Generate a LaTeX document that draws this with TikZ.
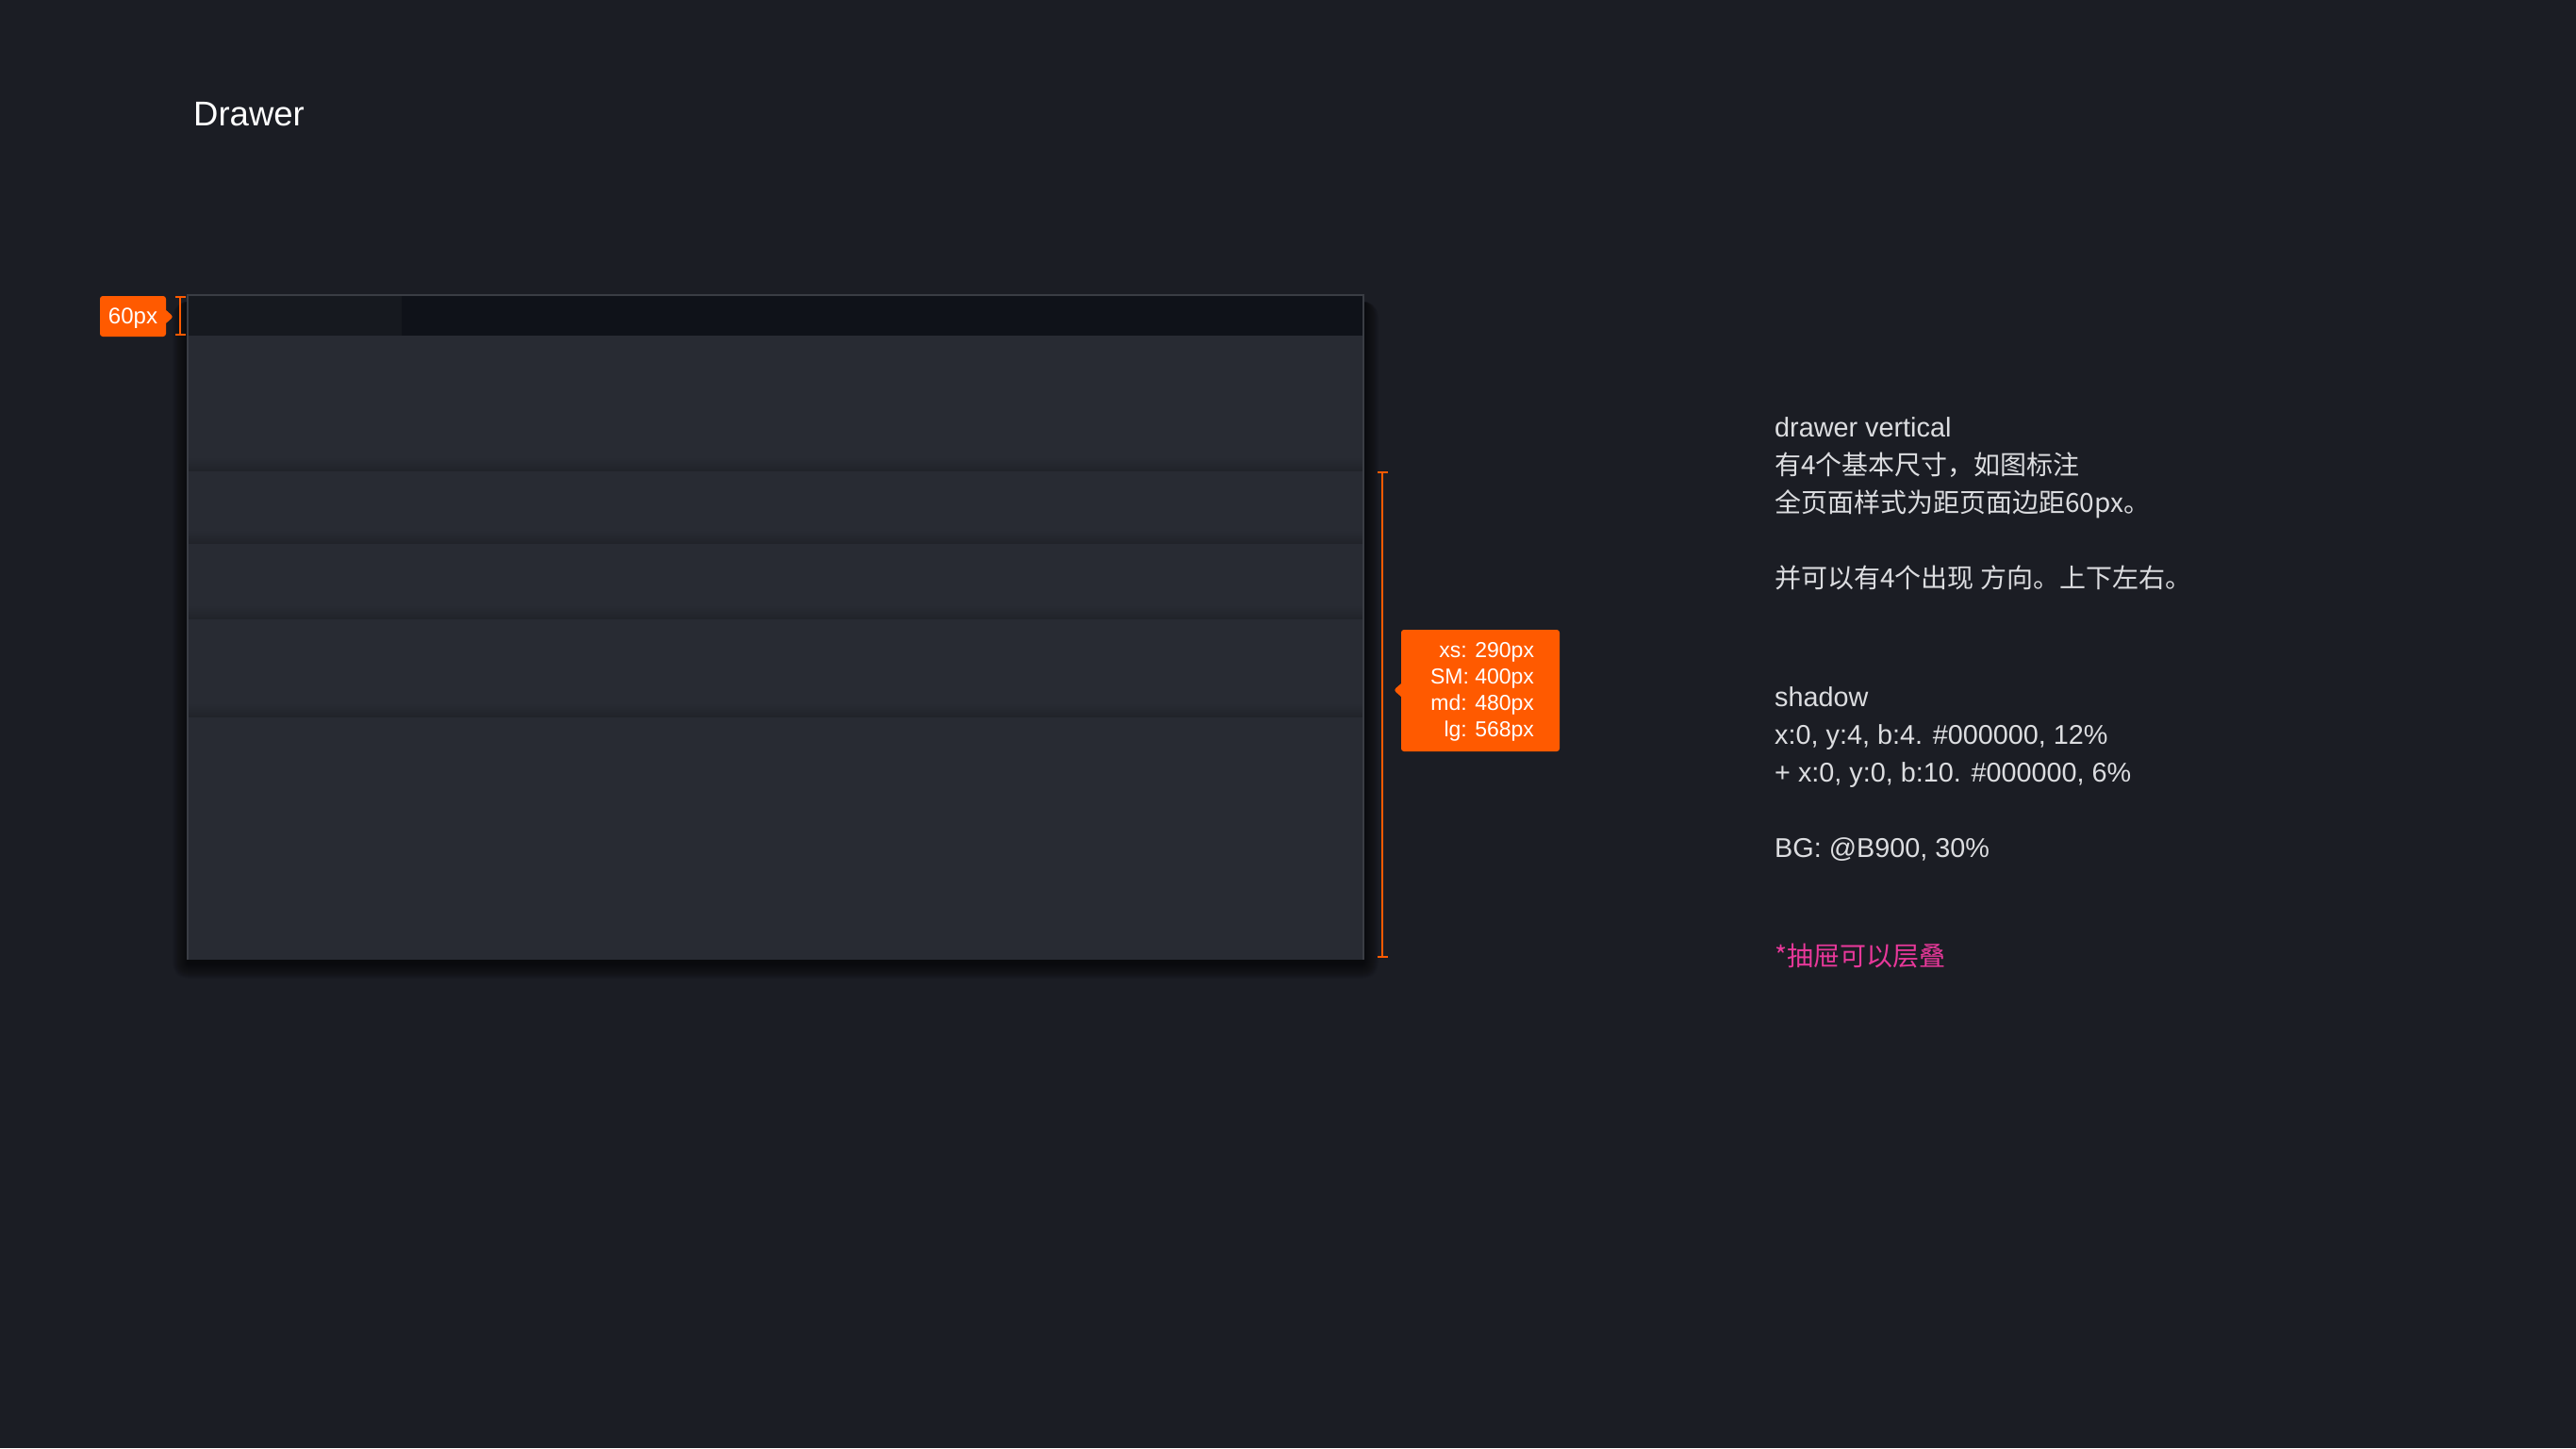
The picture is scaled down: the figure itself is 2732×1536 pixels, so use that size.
\documentclass[tikz,border=0pt]{standalone}
\usepackage{fontspec}
\setmainfont{Liberation Sans}
\newfontfamily\cjk{Noto Sans CJK SC}
\usetikzlibrary{shapes.callouts,arrows.meta,positioning}

\definecolor{pagebg}{HTML}{1B1D24}
\definecolor{panelbg}{HTML}{282B33}
\definecolor{headbg}{HTML}{0F1219}
\definecolor{headleft}{HTML}{16191F}
\definecolor{panelline}{HTML}{3A3D44}
\definecolor{tagorange}{HTML}{FF5A00}
\definecolor{notetext}{HTML}{DCDDE0}
\definecolor{notepink}{HTML}{E8389A}

\tikzstyle{tag}=[rectangle callout, fill=tagorange, text=white, rounded corners=3pt, inner sep=0pt, callout pointer width=14pt, font=\fontsize{23}{28}\selectfont]
\tikzstyle{dim}=[draw=tagorange, line width=2pt, {Bar[width=11pt]}-{Bar[width=11pt]}]
\tikzstyle{note}=[anchor=base west, inner sep=0pt, text=notetext, font=\fontsize{28.8}{40}\selectfont]
\tikzstyle{cjknote}=[font=\cjk\fontsize{28}{40}\selectfont]

\begin{document}
\begin{tikzpicture}[x=1pt, y=-1pt]
    \fill[pagebg] (0,0) rectangle (2732,1536);
    \node[anchor=base west, inner sep=0pt, text=white, font=\fontsize{36.5}{40}\selectfont] (title) at (205,133) {Drawer};

    % shadow under the drawer
    \foreach \r in {1,...,16}
        \fill[black, opacity=0.045, rounded corners=\r pt] (199-\r,320) rectangle (1446+\r,1022+\r);

    % drawer panel with its stacked sizes
    \fill[panelbg] (199,313) rectangle (1446,1018);
    \foreach \y in {499,576,656,760}
        \shade[top color=panelbg, bottom color=black!18!panelbg] (199,\y-14) rectangle (1446,\y);
    \fill[headleft] (199,313) rectangle (426,356);
    \fill[headbg] (426,313) rectangle (1446,356);
    \draw[panelline, line width=1.5pt] (199,1018) -- (199,313) -- (1446,313) -- (1446,1018);

    % 60px mark
    \coordinate (hbtop) at (191,314);
    \coordinate (hbbot) at (191,356);
    \draw[dim] (hbtop) -- (hbbot);
    \node[tag, minimum width=70pt, minimum height=43pt, text depth=0pt, callout absolute pointer={(184,336)}, font=\fontsize{24}{28}\selectfont] (hbtag) at (141,335.5) {60px};

    % drawer sizes
    \coordinate (sztop) at (1466,500);
    \coordinate (szbot) at (1466,1016);
    \draw[dim] (sztop) -- (szbot);
    \node[tag, minimum width=168pt, minimum height=129pt, callout absolute pointer={(1478,732)}] (sztag) at (1570,732.5) {};
    \node[anchor=east, inner sep=0pt, align=right, text=white, font=\fontsize{23}{28}\selectfont] (szlist) at ([xshift=-27pt, yshift=-1pt]sztag.east) {xs: 290px\\SM: 400px\\md: 480px\\lg: 568px};

    % notes
    \node[note] (n1) at (1882,463) {drawer vertical};
    \node[note, cjknote] (n2) at (1882,503) {有4个基本尺寸，如图标注};
    \node[note, cjknote] (n3) at (1882,543) {全页面样式为距页面边距60px。};
    \node[note, cjknote] (n4) at (1882,623) {并可以有4个出现 方向。上下左右。};
    \node[note] (n5) at (1882,749) {shadow};
    \node[note] (n6) at (1882,789) {x:0, y:4, b:4. \#000000, 12\%};
    \node[note] (n7) at (1882,829) {+ x:0, y:0, b:10. \#000000, 6\%};
    \node[note] (n8) at (1882,909) {BG: @B900, 30\%};
    \node[note, cjknote, text=notepink] (n9) at (1882,1024) {*抽屉可以层叠};
\end{tikzpicture}
\end{document}
